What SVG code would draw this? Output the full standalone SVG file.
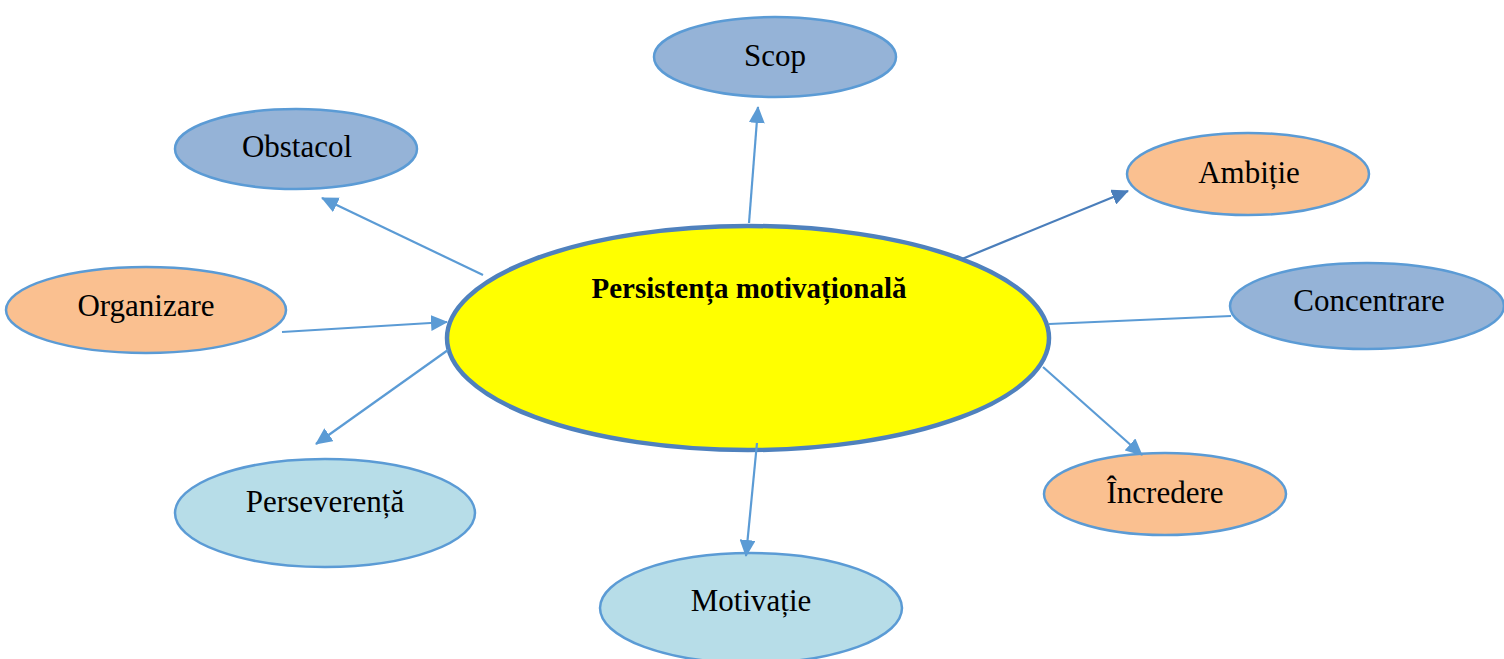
<svg xmlns="http://www.w3.org/2000/svg" width="1504" height="659" viewBox="0 0 1504 659">
<style>
.n{stroke:#5b9bd5;stroke-width:2.5}
.b{fill:#95b3d7}.o{fill:#fac090}.l{fill:#b7dde8}
.t{font-family:"Liberation Serif",serif;font-size:31px;fill:#000;text-anchor:middle}
.c{stroke:#5b9bd5;stroke-width:2.2;fill:none}
</style>
<defs>
<marker id="ah" markerUnits="userSpaceOnUse" markerWidth="18" markerHeight="16" refX="16" refY="8" orient="auto">
<path d="M0,0 L17,8 L0,16 Z" fill="#5b9bd5"/>
</marker>
<marker id="ah2" markerUnits="userSpaceOnUse" markerWidth="18" markerHeight="16" refX="16" refY="8" orient="auto">
<path d="M0,0 L17,8 L0,16 Z" fill="#4a7ebb"/>
</marker>
</defs>
<rect width="1504" height="659" fill="#fff"/>
<g id="center">
<ellipse cx="748" cy="338" rx="301" ry="112" fill="#ffff00" stroke="#4f81bd" stroke-width="4.5"/>
<text x="749" y="298" style="font-family:'Liberation Serif',serif;font-size:29px;font-weight:bold;text-anchor:middle">Persistența motivațională</text>
</g>
<g id="scop"><ellipse class="n b" cx="775" cy="57" rx="121" ry="40"/><text class="t" x="775" y="66">Scop</text></g>
<g id="obstacol"><ellipse class="n b" cx="296" cy="149" rx="121" ry="40"/><text class="t" x="297" y="157">Obstacol</text></g>
<g id="ambitie"><ellipse class="n o" cx="1248" cy="174" rx="121" ry="41"/><text class="t" x="1249" y="183">Ambiție</text></g>
<g id="organizare"><ellipse class="n o" cx="146" cy="310" rx="140" ry="43"/><text class="t" x="146" y="316">Organizare</text></g>
<g id="concentrare"><ellipse class="n b" cx="1367" cy="306" rx="137" ry="43"/><text class="t" x="1369" y="311">Concentrare</text></g>
<g id="incredere"><ellipse class="n o" cx="1165" cy="494" rx="121" ry="41"/><text class="t" x="1165" y="503">Încredere</text></g>
<g id="perseverenta"><ellipse class="n l" cx="325" cy="513" rx="150" ry="54"/><text class="t" x="325" y="512">Perseverență</text></g>
<g id="motivatie"><ellipse class="n l" cx="751" cy="608" rx="151" ry="55"/><text class="t" x="751" y="611">Motivație</text></g>
<g id="connectors">
<line class="c" x1="749" y1="223" x2="758" y2="107" marker-end="url(#ah)"/>
<line class="c" x1="483" y1="275" x2="322" y2="198" marker-end="url(#ah)"/>
<line class="c" x1="962" y1="259" x2="1128" y2="191" style="stroke:#4a7ebb" marker-end="url(#ah2)"/>
<line class="c" x1="282" y1="332" x2="447" y2="322" marker-end="url(#ah)"/>
<line class="c" x1="1049" y1="324" x2="1231" y2="316"/>
<line class="c" x1="1043" y1="367" x2="1142" y2="455" marker-end="url(#ah)"/>
<line class="c" x1="448" y1="350" x2="316" y2="444" marker-end="url(#ah)"/>
<line class="c" x1="757" y1="443" x2="746" y2="556" marker-end="url(#ah)"/>
</g>
</svg>
